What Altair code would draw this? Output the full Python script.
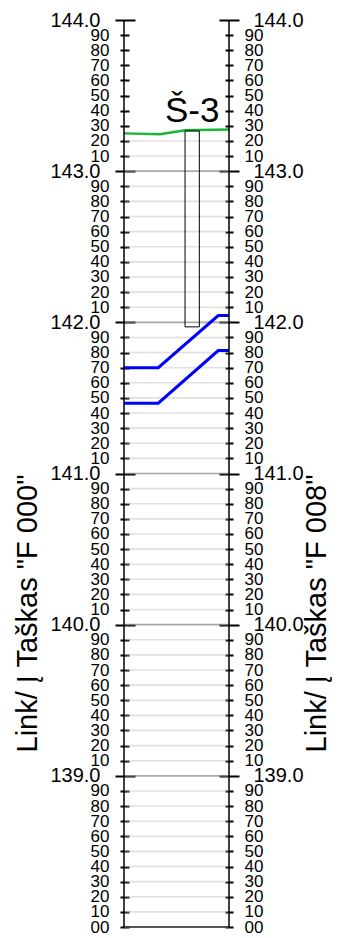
import altair as alt
import pandas as pd

FONT = "Liberation Sans"

# ---- axis ticks (elevation, m) ----
major_ticks = [139.0, 140.0, 141.0, 142.0, 143.0, 144.0]
minor_ticks = [round(138.0 + i * 0.1, 1) for i in range(61) if i % 10 != 0 or i == 0]
grid_levels = [round(138.0 + i * 0.1, 1) for i in range(53)]  # 138.0 .. 143.2

left_title = 'Link/ Į Taškas "F 000"'
right_title = 'Link/ Į Taškas "F 008"'

# ---- ground surface (green) ----
ground_x = [0.0, 2.74, 4.65, 8.0]
ground_y = [143.25, 143.245, 143.27, 143.275]

# ---- pipes (blue) ----
pipe_x = [0.0, 2.61, 7.18, 8.0]
pipe_top_y = [141.70, 141.70, 142.045, 142.045]
pipe_bot_y = [141.465, 141.465, 141.813, 141.813]

# ---- well ----
well_name = "Š-3"
well_x0, well_x1 = 4.65, 5.74
well_bottom, well_top = 141.97, 143.266

W, H = 105, 907

yscale = alt.Scale(domain=[138, 144], nice=False, zero=False)
xscale = alt.Scale(domain=[0, 8], nice=False, zero=False)


def make_axis(orient, values, offset, tick, pad, fsize, label_expr=None, fmt=None,
              title=None, tx=None, ty=None):
    kw = dict(orient=orient, values=values, offset=offset, tickSize=tick, tickWidth=2,
              tickColor="black", labelPadding=pad, labelFontSize=fsize, labelFont=FONT,
              labelColor="black", labelOverlap=False, labelFlush=False, labelBound=False,
              domain=False, grid=False, zindex=0)
    if label_expr:
        kw["labelExpr"] = label_expr
    if fmt:
        kw["format"] = fmt
    if title:
        kw.update(title=title, titleX=tx, titleY=ty, titleAngle=-90, titleAlign="center",
                  titleBaseline="alphabetic", titleFont=FONT, titleFontSize=29,
                  titleFontWeight="normal", titleColor="black")
    else:
        kw["title"] = None
    return alt.Axis(**kw)


minor_expr = "(round(datum.value * 10) % 10) + '0'"

ax_left_minor = make_axis("left", minor_ticks, -5, 9, 11, 17, label_expr=minor_expr)
ax_left_major = make_axis("left", major_ticks, -11, 20, 15, 20, fmt=".1f",
                          title=left_title, tx=-99, ty=593)
ax_right_minor = make_axis("right", minor_ticks, -4, 8, 11, 17, label_expr=minor_expr)
ax_right_major = make_axis("right", major_ticks, -10, 20, 14, 20, fmt=".1f",
                           title=right_title, tx=106, ty=593)

# grid table
grid_rows = []
for lv in grid_levels:
    if lv == 138.0:
        grid_rows.append({"level": lv, "c": "#444444", "op": 0.9, "w": 2})
    elif abs(lv - round(lv)) < 1e-6:
        grid_rows.append({"level": lv, "c": "#838383", "op": 0.7, "w": 1.6})
    else:
        grid_rows.append({"level": lv, "c": "#bbbbbb", "op": 0.45, "w": 1.6})
grid_df = pd.DataFrame(grid_rows)

ground_df = pd.DataFrame({"x": ground_x, "y": ground_y})
pipe_df = pd.DataFrame({
    "x": pipe_x + pipe_x,
    "y": pipe_top_y + pipe_bot_y,
    "line": ["top"] * len(pipe_x) + ["bottom"] * len(pipe_x),
})
well_df = pd.DataFrame({"x0": [well_x0], "x1": [well_x1], "xc": [(well_x0 + well_x1) / 2],
                        "y0": [well_bottom], "y1": [well_top], "name": [well_name]})
edge_df = pd.DataFrame({"x": [0.0, 8.0], "y0": [138.0, 138.0], "y1": [144.0, 144.0]})

grid = alt.Chart(grid_df).mark_rule().encode(
    y=alt.Y("level:Q", scale=yscale, axis=ax_left_minor),
    color=alt.Color("c:N", scale=None),
    opacity=alt.Opacity("op:Q", scale=None),
    strokeWidth=alt.StrokeWidth("w:Q", scale=None),
)

ground = alt.Chart(ground_df).mark_line(color="#17b837", strokeWidth=2.5).encode(
    x=alt.X("x:Q", scale=xscale, axis=None),
    y=alt.Y("y:Q", scale=yscale, axis=ax_left_major),
)

pipes = alt.Chart(pipe_df).mark_line(color="#0000ff", strokeWidth=3).encode(
    x=alt.X("x:Q", scale=xscale, axis=None),
    y=alt.Y("y:Q", scale=yscale, axis=ax_right_minor),
    detail="line:N",
)

well = alt.Chart(well_df).mark_rect(fill="white", fillOpacity=0, stroke="black", strokeWidth=1).encode(
    x=alt.X("x0:Q", scale=xscale, axis=None),
    x2="x1:Q",
    y=alt.Y("y0:Q", scale=yscale, axis=ax_right_major),
    y2="y1:Q",
)

label = alt.Chart(well_df).mark_text(font=FONT, fontSize=35, align="center",
                                     baseline="alphabetic", dy=-9, color="black").encode(
    x=alt.X("xc:Q", scale=xscale, axis=None),
    y=alt.Y("y1:Q", scale=yscale, axis=None),
    text="name:N",
)

edges = alt.Chart(edge_df).mark_rule(color="black", strokeWidth=1.5).encode(
    x=alt.X("x:Q", scale=xscale, axis=None),
    y=alt.Y("y0:Q", scale=yscale, axis=None),
    y2="y1:Q",
)

chart = alt.layer(grid, ground, pipes, well, label, edges).resolve_axis(
    y="independent"
).properties(
    width=W, height=H,
    padding={"left": 116, "top": 12, "right": 103, "bottom": 11},
    autosize=alt.AutoSizeParams(type="none"),
).configure_view(stroke=None)

chart.save("out.html", embed_options={"renderer": "svg", "actions": False})
